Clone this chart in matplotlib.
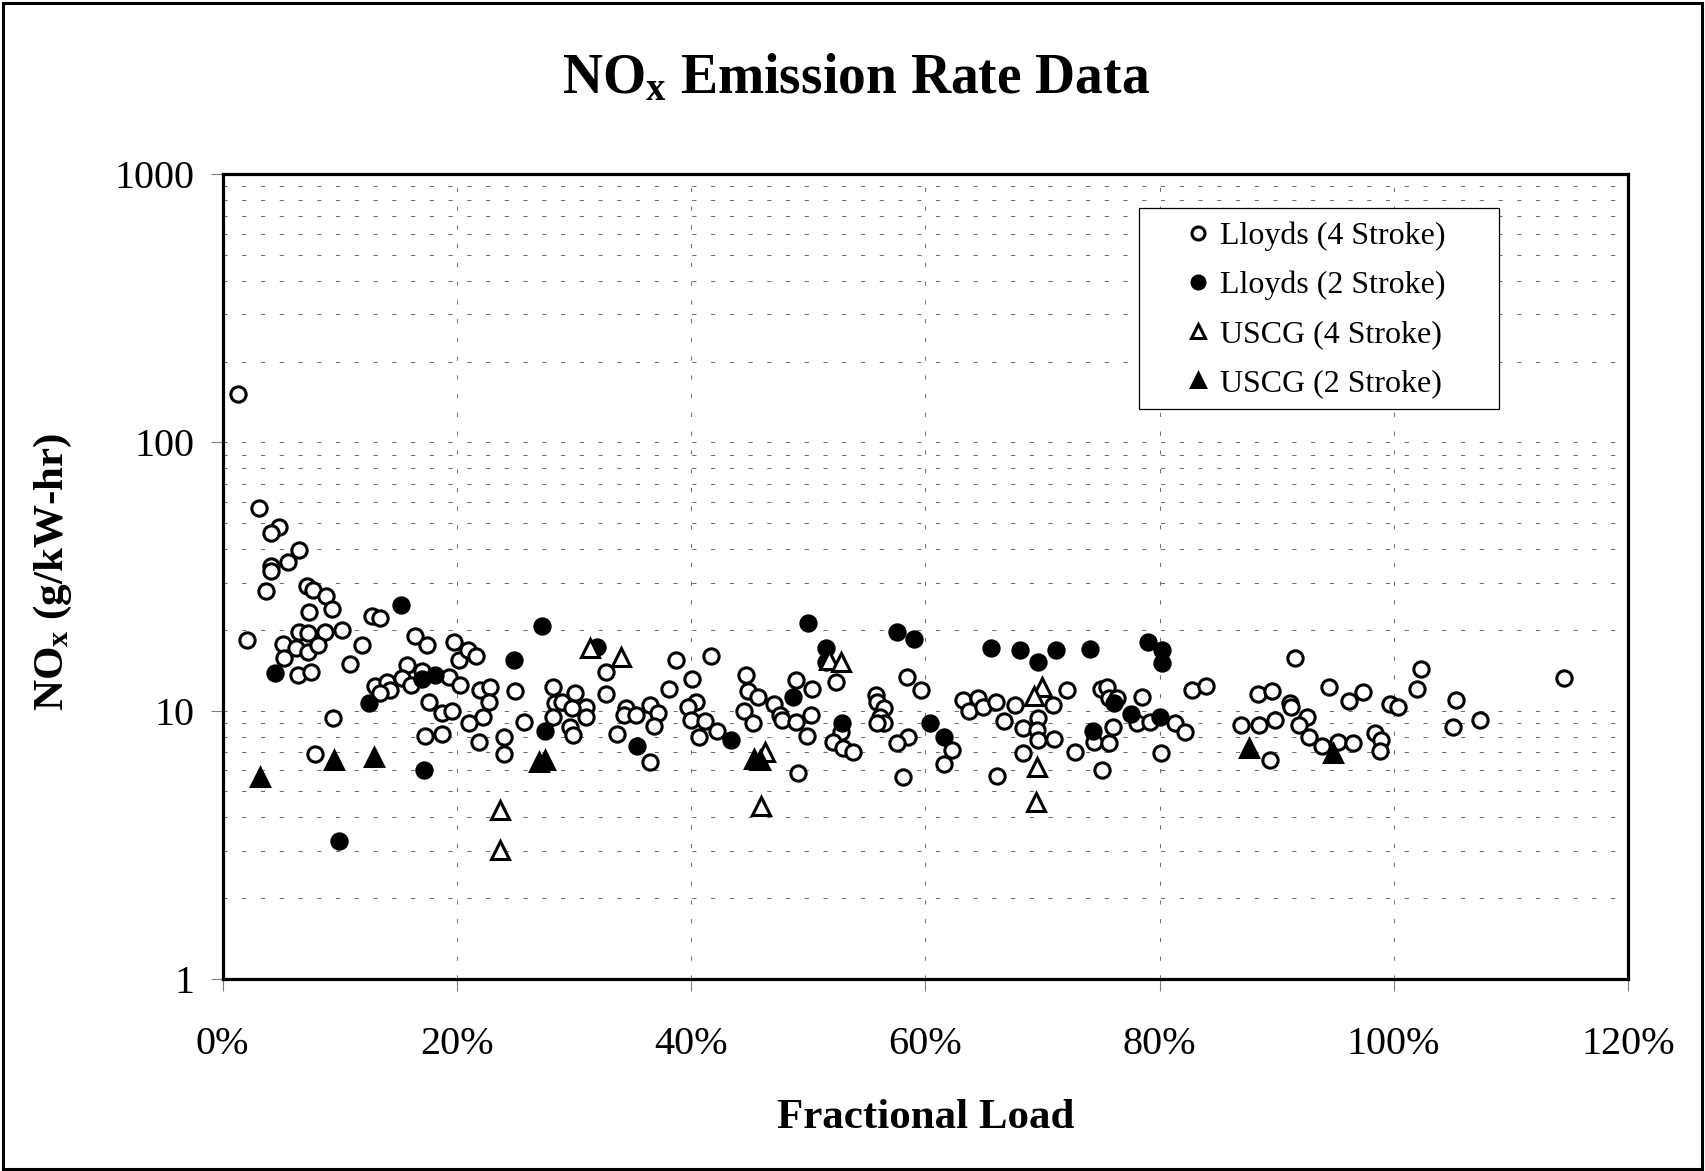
import numpy as np
import matplotlib
matplotlib.use('Agg')
import matplotlib.pyplot as plt
from matplotlib.ticker import LogLocator, NullFormatter
from matplotlib.patches import Rectangle

plt.rcParams['font.family'] = ['Liberation Serif', 'DejaVu Serif']
plt.rcParams['mathtext.default'] = 'regular'

# Lloyds (4 Stroke) - fractional load in %, NOx in g/kW-hr
lloyds4_load = [1.3, 3.1, 4.8, 4.1, 6.5, 5.6, 4.15, 4.15, 3.7, 7.2, 7.7, 8.8, 9.3, 7.4, 2.1,
                6.55, 7.3, 8.7, 10.2, 5.15, 6.25, 7.3, 8.15, 5.2, 11.9, 10.85, 6.45, 7.55,
                12.75, 13.45, 16.4, 17.45, 19.75, 20.2, 15.75, 13.05, 14.05, 14.3, 13.45,
                15.3, 16.05, 17.0, 19.3, 20.3, 17.6, 18.75, 19.6, 9.4, 17.25, 18.7, 7.9,
                20.95, 21.6, 22.0, 22.85, 22.75, 22.2, 21.0, 21.85, 24.0, 24.0, 25.0, 25.7,
                28.2, 28.4, 29.0, 30.05, 31.0, 31.0, 28.2, 29.7, 29.9, 29.8, 32.7, 32.7,
                34.4, 34.25, 35.3, 33.7, 36.5, 37.2, 36.8, 36.5, 38.1, 38.7, 40.1, 41.7,
                40.4, 39.7, 40.0, 41.2, 40.7, 42.2,
                44.7, 44.9, 45.7, 44.5, 45.3, 47.1, 47.6, 47.8, 49.0, 50.3, 50.2, 49.0,
                49.9, 49.1, 52.4, 52.8, 52.1, 53.0, 53.8, 55.8, 55.9, 56.5, 56.1, 56.5,
                55.9, 58.4, 59.6, 58.5, 57.6, 58.1, 62.3, 61.6, 63.2, 63.7, 64.5, 64.9,
                66.0, 67.7, 66.7, 68.3, 69.6, 69.5, 69.6, 71.0, 70.9, 72.1, 68.3, 66.1,
                72.8, 75.0, 75.5, 75.7, 76.4, 78.5, 76.0, 74.4, 75.7, 75.1, 78.1, 79.2,
                81.3, 82.2, 80.1, 82.8, 84.0,
                87.0, 88.5, 89.9, 88.4, 89.6, 89.4, 91.6, 91.1, 91.2, 92.6, 91.9, 92.8,
                93.9, 95.2, 96.5, 94.5, 96.2, 97.4, 98.4, 98.9, 98.8, 99.7, 100.4, 102.0,
                102.3, 105.3, 105.1, 107.4, 114.5]
lloyds4_nox = [151, 56.8, 48.3, 45.8, 39.7, 35.9, 34.6, 33.2, 28.0, 29.2, 28.2, 26.8, 23.9, 23.4, 18.3,
               19.7, 19.4, 19.6, 20.0, 17.7, 17.1, 16.6, 17.6, 15.7, 17.5, 14.9, 13.6, 13.9,
               22.5, 22.1, 19.0, 17.6, 18.1, 15.5, 14.8, 12.4, 12.8, 11.9, 11.6,
               13.2, 12.5, 14.0, 13.4, 12.5, 10.8, 9.78, 10.0, 9.37, 8.05, 8.19, 6.9,
               16.8, 16.0, 11.9, 12.2, 10.8, 9.5, 9.02, 7.66, 8.0, 6.9, 11.8, 9.1,
               12.3, 10.7, 10.8, 11.6, 10.3, 9.45, 9.5, 8.72, 8.12, 10.2, 13.9, 11.5,
               10.2, 9.64, 9.64, 8.17, 10.5, 9.83, 8.77, 6.45, 12.0, 15.5, 13.1, 16.0,
               10.8, 10.3, 9.24, 9.18, 8.0, 8.42,
               13.6, 11.8, 11.2, 10.0, 9.02, 10.6, 9.64, 9.24, 13.0, 12.0, 9.64, 9.1,
               8.05, 5.87, 12.8, 8.35, 7.66, 7.24, 7.04, 11.4, 10.8, 10.2, 9.5, 8.98,
               8.98, 13.3, 11.9, 7.96, 7.6, 5.68, 7.14, 6.33, 11.0, 10.0, 11.1, 10.3,
               10.8, 10.5, 9.18, 8.6, 9.37, 8.47, 7.77, 7.82, 10.5, 11.9, 6.97, 5.71,
               7.04, 12.0, 12.2, 11.1, 11.1, 11.2, 8.72, 7.66, 7.6, 6.01, 8.98, 9.1,
               8.98, 8.35, 6.97, 11.9, 12.4,
               8.84, 8.84, 9.2, 11.5, 11.8, 6.55, 15.7, 10.7, 10.3, 9.5, 8.84, 7.96,
               7.38, 7.66, 7.56, 12.3, 10.9, 11.7, 8.28, 7.77, 7.09, 10.6, 10.3, 12.0,
               14.3, 11.0, 8.72, 9.23, 13.2]

# Lloyds (2 Stroke)
lloyds2_load = [4.5, 15.2, 12.5, 17.0, 18.15, 17.2, 9.9, 27.25, 24.85, 31.95, 27.55, 35.4,
                50.0, 51.5, 51.5, 48.7, 43.4, 52.9, 57.6, 59.0, 60.4, 61.6,
                65.6, 68.1, 69.6, 71.2, 74.1, 79.0, 80.2, 80.2, 76.1, 77.6, 80.0, 74.3]
lloyds2_nox = [13.8, 24.8, 10.7, 13.1, 13.6, 6.01, 3.27, 20.6, 15.5, 17.3, 8.42, 7.38,
               21.3, 17.1, 15.2, 11.2, 7.77, 9.02, 19.7, 18.5, 8.98, 8.0,
               17.1, 16.8, 15.2, 16.8, 16.9, 18.1, 16.8, 15.0, 10.7, 9.72, 9.45, 8.42]

# USCG (4 Stroke)
uscg4_load = [23.65, 23.65, 31.4, 34.0, 51.8, 52.8, 46.0, 46.3, 70.0, 69.3, 69.5, 69.45]
uscg4_nox = [4.26, 3.03, 17.1, 15.8, 15.5, 15.2, 4.41, 7.04, 12.2, 11.3, 6.18, 4.58]

# USCG (2 Stroke)
uscg2_load = [3.15, 9.5, 12.95, 27.0, 27.55, 45.35, 45.9, 87.65, 94.8]
uscg2_nox = [5.68, 6.55, 6.70, 6.45, 6.55, 6.59, 6.55, 7.24, 6.94]

x_ticks = [0, 20, 40, 60, 80, 100, 120]
x_tick_labels = ['0%', '20%', '40%', '60%', '80%', '100%', '120%']
y_ticks = [1, 10, 100, 1000]
y_tick_labels = ['1', '10', '100', '1000']

fig = plt.figure(figsize=(17.05, 11.71), dpi=100)
ax = fig.add_axes([0.1306, 0.164, 0.8242, 0.6874])

ms = 11
mew = 2.2
ax.plot(lloyds4_load, lloyds4_nox, ls='none', marker='o', ms=ms, mew=mew,
        mfc='white', mec='black', label='Lloyds (4 Stroke)', zorder=3)
ax.plot(lloyds2_load, lloyds2_nox, ls='none', marker='o', ms=ms, mew=mew,
        mfc='black', mec='black', label='Lloyds (2 Stroke)', zorder=4)
ax.plot(uscg4_load, uscg4_nox, ls='none', marker='^', ms=12.5, mew=mew,
        mfc='white', mec='black', label='USCG (4 Stroke)', zorder=5)
ax.plot(uscg2_load, uscg2_nox, ls='none', marker='^', ms=12.5, mew=mew,
        mfc='black', mec='black', label='USCG (2 Stroke)', zorder=6)

ax.set_yscale('log')
ax.set_xlim(0, 120)
ax.set_ylim(1, 1000)
ax.set_xticks(x_ticks)
ax.set_xticklabels(x_tick_labels)
ax.set_yticks(y_ticks)
ax.set_yticklabels(y_tick_labels)
ax.yaxis.set_minor_locator(LogLocator(base=10, subs=np.arange(2, 10)))
ax.yaxis.set_minor_formatter(NullFormatter())

ax.tick_params(axis='both', which='major', direction='out', length=8.6, width=0.8,
               color='#808080', labelsize=29, labelcolor='black')
ax.tick_params(axis='x', pad=25)
ax.tick_params(axis='y', pad=12)
ax.tick_params(axis='y', which='minor', length=0)

dash = (0, (4, 14))
ax.grid(True, which='both', axis='y', color='#707070', lw=0.75, ls=dash)
ax.grid(True, which='major', axis='x', color='#707070', lw=0.75, ls=dash)
ax.set_axisbelow(True)

for sp in ax.spines.values():
    sp.set_linewidth(2.3)
    sp.set_color('black')

ax.set_xlabel('Fractional Load', fontsize=31, fontweight='bold')
ax.xaxis.set_label_coords(0.5, -0.173)
ax.xaxis.label.set_va('center')
ax.set_ylabel(r'NO$_\mathregular{x}$ (g/kW-hr)', fontsize=31, fontweight='bold')
ax.yaxis.set_label_coords(-0.121, 0.505)
ax.yaxis.label.set_va('center')

fig.text(0.502, 0.932, r'NO$_\mathregular{x}$ Emission Rate Data', fontsize=40,
         fontweight='bold', ha='center', va='center')

# legend box drawn separately so the entries sit centred in it
box_x0 = (1139 - 222.7) / 1405.3
box_x1 = (1499 - 222.7) / 1405.3
box_y0 = (979 - 409) / 805
box_y1 = (979 - 208) / 805
ax.add_patch(Rectangle((box_x0, box_y0), box_x1 - box_x0, box_y1 - box_y0,
                       transform=ax.transAxes, fill=True, facecolor='white',
                       edgecolor='black', lw=0.9, zorder=7))
leg = ax.legend(loc='upper left', bbox_to_anchor=(0.6835, 0.941), frameon=False,
                fontsize=23, markerscale=0.85, handlelength=0.9, handletextpad=0.25,
                labelspacing=0.62, borderpad=0, borderaxespad=0)
leg.set_zorder(8)

# outer frame of the picture
fig.patches.append(Rectangle((3 / 1705, 2 / 1171), 1699 / 1705, 1166 / 1171,
                             transform=fig.transFigure, fill=False,
                             edgecolor='black', lw=2.2))

fig.savefig('out.png', dpi=100)
